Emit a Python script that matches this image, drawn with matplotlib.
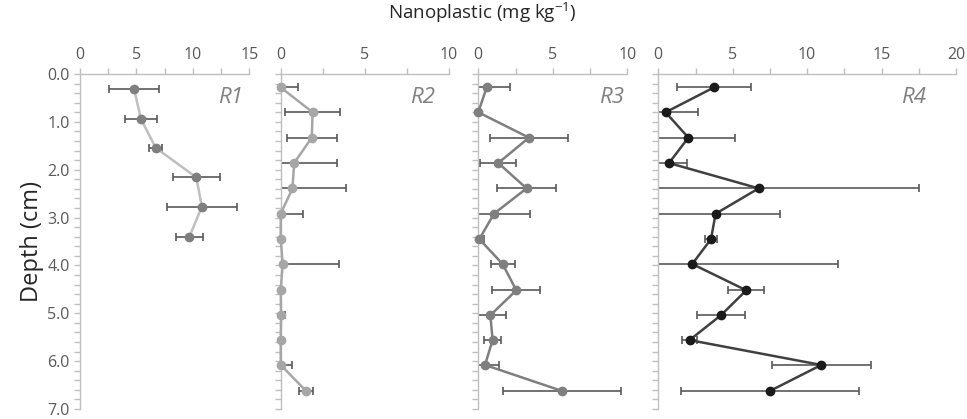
import numpy as np
import matplotlib.pyplot as plt
from matplotlib.ticker import MultipleLocator, FormatStrFormatter

plt.rcParams['font.family'] = ['Open Sans', 'DejaVu Sans']
plt.rcParams['mathtext.default'] = 'regular'

# --- data (depth in cm, nanoplastic in mg/kg)
depth_r1 = [0.32, 0.94, 1.54, 2.16, 2.77, 3.40]
r1 = [4.8, 5.4, 6.7, 10.3, 10.8, 9.7]
r1_err = [2.2, 1.4, 0.55, 2.1, 3.1, 1.2]

depth = [0.28, 0.80, 1.33, 1.86, 2.39, 2.92, 3.45, 3.97, 4.52, 5.04, 5.56, 6.08, 6.62]
r2 = [0.0, 1.9, 1.85, 0.8, 0.7, 0.0, 0.0, 0.12, 0.0, 0.02, 0.0, 0.0, 1.5]
r2_err = [1.0, 1.65, 1.5, 2.55, 3.2, 1.35, 0.0, 3.37, 0.0, 0.25, 0.0, 0.7, 0.4]
r3 = [0.56, 0.0, 3.4, 1.34, 3.24, 1.05, 0.07, 1.63, 2.55, 0.81, 0.96, 0.45, 5.59]
r3_err = [1.6, 0.0, 2.6, 1.2, 2.0, 2.4, 0.33, 0.8, 1.6, 1.07, 0.56, 0.96, 3.96]
r4 = [3.74, 0.49, 2.02, 0.72, 6.74, 3.85, 3.54, 2.28, 5.91, 4.21, 2.1, 10.95, 7.52]
r4_err = [2.5, 2.2, 3.15, 1.23, 10.77, 4.32, 0.41, 9.79, 1.21, 1.62, 0.5, 3.34, 5.97]

W, H = 967, 419
fig = plt.figure(figsize=(W / 100, H / 100), dpi=100)

spine_c = '#BFBFBF'
text_c = '#595959'
err_c = '#595959'

# (x0, x1) pixel extents, x max, series, colours, label, label x (axes frac)
panels = [
    (80, 249.3, 15, depth_r1, r1, r1_err, '#7F7F7F', '#BFBFBF', 'R1', 0.965),
    (280.7, 448.7, 10, depth, r2, r2_err, '#A6A6A6', '#A6A6A6', 'R2', 0.92),
    (478.3, 627.3, 10, depth, r3, r3_err, '#7F7F7F', '#7F7F7F', 'R3', 0.98),
    (658.3, 956, 20, depth, r4, r4_err, '#1A1A1A', '#404040', 'R4', 0.90),
]
y_top, y_bot = 74, 409

for i, (x0, x1, xmax, d, v, e, mc, lc, lab, lx) in enumerate(panels):
    ax = fig.add_axes([x0 / W, 1 - y_bot / H, (x1 - x0) / W, (y_bot - y_top) / H])
    ax.errorbar(v, d, xerr=e, fmt='none', ecolor=err_c, elinewidth=1.2,
                capsize=3, capthick=1.2, zorder=2)
    ax.plot(v, d, color=lc, lw=1.8, zorder=3, clip_on=False)
    ax.plot(v, d, 'o', color=mc, ms=6, zorder=4, clip_on=False)
    ax.set_xlim(0, xmax)
    ax.set_ylim(7, 0)
    for s in ['right', 'bottom']:
        ax.spines[s].set_visible(False)
    for s in ['left', 'top']:
        ax.spines[s].set_color(spine_c)
        ax.spines[s].set_linewidth(1.0)
    ax.xaxis.tick_top()
    ax.xaxis.set_major_locator(MultipleLocator(5))
    ax.xaxis.set_minor_locator(MultipleLocator(2.5))
    ax.yaxis.set_major_locator(MultipleLocator(1))
    ax.yaxis.set_minor_locator(MultipleLocator(0.2))
    ax.yaxis.set_major_formatter(FormatStrFormatter('%.1f'))
    ax.tick_params(axis='both', which='both', color=spine_c, labelcolor=text_c,
                   labelsize=11.5, width=1, length=4, direction='out')
    ax.tick_params(axis='x', which='both', pad=4)
    if i > 0:
        ax.tick_params(axis='y', labelleft=False)
    ax.patch.set_alpha(0)
    ax.text(lx, 0.93, lab, transform=ax.transAxes, ha='right', va='center',
            fontsize=16, style='italic', color='#808080')
    if i == 0:
        ax.set_ylabel('Depth (cm)', fontsize=17, color='#262626', labelpad=2)

fig.text(482 / W, 1 - 13 / H, 'Nanoplastic (mg kg$^{-1}$)', ha='center',
         va='center', fontsize=13.5, color='#262626')

fig.savefig('out.png', dpi=100)
